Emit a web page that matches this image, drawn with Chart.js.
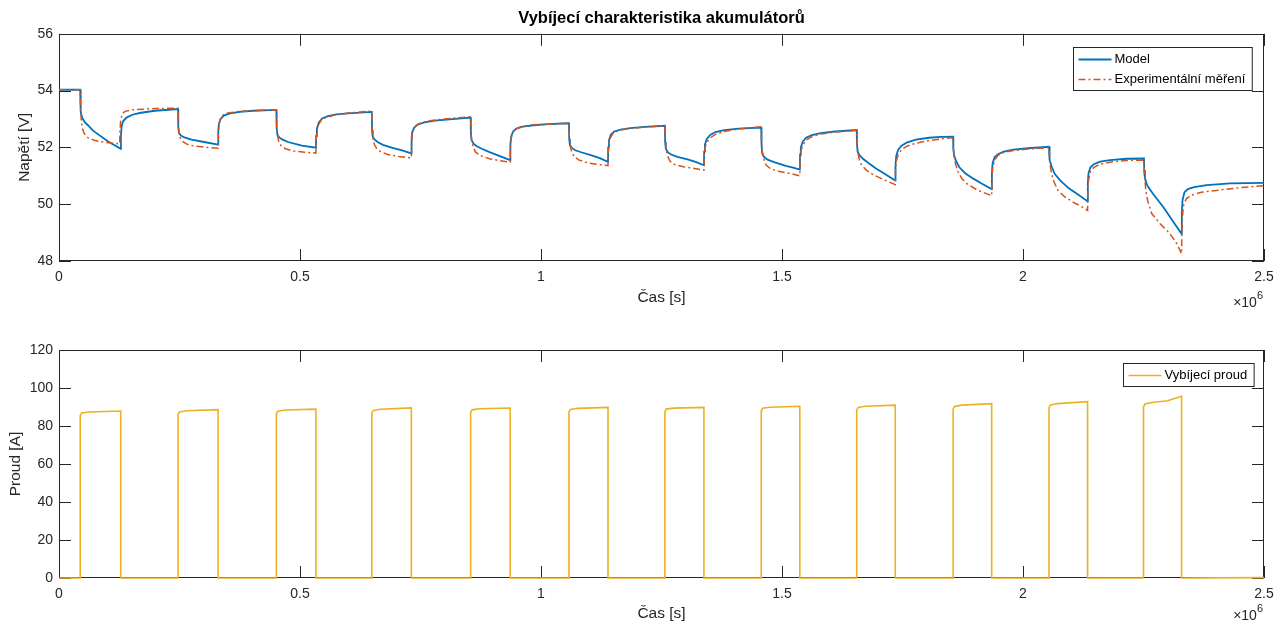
<!DOCTYPE html>
<html lang="cs">
<head>
<meta charset="UTF-8">
<title>Vybíjecí charakteristika akumulátorů</title>
<script src="https://cdn.jsdelivr.net/npm/chart.js"></script>
<style>
  html, body { margin: 0; padding: 0; background: #fff; }
  #wrap { position: relative; width: 1276px; height: 626px; }
  canvas { position: absolute; left: 0; }
  #napeti { top: 0; }
  #proud { top: 313px; }
</style>
</head>
<body>
<div id="wrap">
  <canvas id="napeti" width="1276" height="313"></canvas>
  <canvas id="proud" width="1276" height="313"></canvas>
</div>
<script>
// cas je v jednotkach 10^6 s
const xTicks = [0, 0.5, 1, 1.5, 2, 2.5];
const napetiRange = [48, 56];
const proudRange = [0, 120];

// [t, U] - model
const modelData = [
  [0, 54.03], [0.044, 54.03],
  [0.045, 53.25], [0.048, 53.05], [0.053, 52.9], [0.060, 52.78], [0.070, 52.6], [0.082, 52.45], [0.102, 52.21], [0.128, 51.95],
  [0.1285, 52.4], [0.130, 52.75], [0.133, 52.92], [0.140, 53.05], [0.152, 53.15], [0.170, 53.22], [0.199, 53.29], [0.247, 53.35],
  [0.2475, 52.7], [0.249, 52.5], [0.253, 52.42], [0.260, 52.35], [0.275, 52.27], [0.301, 52.19], [0.330, 52.1],
  [0.3305, 52.6], [0.332, 52.85], [0.336, 53.02], [0.343, 53.13], [0.355, 53.2], [0.375, 53.25], [0.402, 53.29], [0.451, 53.32],
  [0.4515, 52.7], [0.453, 52.45], [0.457, 52.35], [0.463, 52.28], [0.475, 52.19], [0.504, 52.06], [0.533, 51.99],
  [0.5335, 52.4], [0.535, 52.65], [0.539, 52.88], [0.546, 53.02], [0.558, 53.1], [0.575, 53.16], [0.600, 53.2], [0.649, 53.25],
  [0.6495, 52.6], [0.651, 52.38], [0.655, 52.27], [0.661, 52.19], [0.672, 52.09], [0.690, 51.99], [0.710, 51.9], [0.731, 51.79],
  [0.7315, 52.3], [0.733, 52.55], [0.737, 52.7], [0.744, 52.8], [0.758, 52.88], [0.780, 52.94], [0.810, 52.99], [0.854, 53.05],
  [0.8545, 52.5], [0.856, 52.25], [0.860, 52.13], [0.866, 52.05], [0.876, 51.96], [0.892, 51.84], [0.912, 51.71], [0.936, 51.55],
  [0.9365, 52.1], [0.938, 52.38], [0.942, 52.56], [0.949, 52.66], [0.962, 52.73], [0.985, 52.78], [1.015, 52.82], [1.058, 52.85],
  [1.0585, 52.3], [1.060, 52.08], [1.064, 51.98], [1.071, 51.9], [1.085, 51.82], [1.105, 51.72], [1.122, 51.62], [1.139, 51.49],
  [1.1395, 52.0], [1.141, 52.25], [1.145, 52.45], [1.152, 52.56], [1.165, 52.63], [1.185, 52.68], [1.215, 52.72], [1.257, 52.76],
  [1.2575, 52.2], [1.259, 51.95], [1.263, 51.83], [1.270, 51.75], [1.283, 51.67], [1.306, 51.57], [1.322, 51.48], [1.338, 51.37],
  [1.3385, 51.85], [1.340, 52.1], [1.344, 52.3], [1.351, 52.44], [1.362, 52.54], [1.380, 52.61], [1.410, 52.66], [1.457, 52.7],
  [1.4575, 52.1], [1.459, 51.78], [1.463, 51.66], [1.470, 51.57], [1.485, 51.47], [1.508, 51.35], [1.523, 51.29], [1.537, 51.22],
  [1.5375, 51.75], [1.539, 52.0], [1.543, 52.2], [1.550, 52.34], [1.562, 52.43], [1.580, 52.5], [1.610, 52.56], [1.655, 52.61],
  [1.6555, 52.1], [1.657, 51.85], [1.661, 51.72], [1.668, 51.6], [1.680, 51.44], [1.695, 51.26], [1.712, 51.08], [1.735, 50.83],
  [1.7355, 51.4], [1.737, 51.7], [1.741, 51.92], [1.748, 52.06], [1.760, 52.18], [1.778, 52.27], [1.805, 52.34], [1.830, 52.37], [1.855, 52.38],
  [1.8555, 51.95], [1.857, 51.72], [1.861, 51.52], [1.868, 51.3], [1.880, 51.09], [1.897, 50.9], [1.915, 50.72], [1.935, 50.53],
  [1.9355, 51.1], [1.937, 51.45], [1.941, 51.65], [1.948, 51.76], [1.960, 51.85], [1.980, 51.92], [2.010, 51.97], [2.054, 52.02],
  [2.0545, 51.75], [2.056, 51.55], [2.060, 51.3], [2.066, 51.06], [2.077, 50.84], [2.095, 50.56], [2.115, 50.33], [2.134, 50.1],
  [2.1345, 50.75], [2.136, 51.1], [2.140, 51.3], [2.147, 51.41], [2.160, 51.5], [2.180, 51.55], [2.215, 51.6], [2.251, 51.61],
  [2.2515, 51.2], [2.253, 50.9], [2.257, 50.7], [2.262, 50.55], [2.270, 50.36], [2.291, 49.9], [2.310, 49.43], [2.329, 48.96],
  [2.3295, 49.7], [2.331, 50.15], [2.335, 50.42], [2.342, 50.53], [2.355, 50.6], [2.381, 50.67], [2.430, 50.73], [2.5, 50.75]
];

// [t, U] - experimentalni mereni
const mereniData = [
  [0, 54.03], [0.044, 54.03],
  [0.0445, 53.5], [0.046, 53.0], [0.048, 52.7], [0.052, 52.5], [0.060, 52.34], [0.075, 52.24], [0.095, 52.18], [0.126, 52.12],
  [0.1265, 52.6], [0.128, 52.95], [0.131, 53.18], [0.137, 53.27], [0.150, 53.32], [0.199, 53.37], [0.247, 53.38],
  [0.2475, 52.8], [0.249, 52.5], [0.252, 52.32], [0.257, 52.2], [0.266, 52.11], [0.280, 52.05], [0.305, 52.0], [0.330, 51.97],
  [0.3305, 52.5], [0.332, 52.8], [0.335, 53.02], [0.340, 53.14], [0.350, 53.21], [0.370, 53.26], [0.410, 53.3], [0.451, 53.32],
  [0.4515, 52.8], [0.453, 52.45], [0.456, 52.2], [0.461, 52.05], [0.470, 51.95], [0.487, 51.87], [0.510, 51.83], [0.533, 51.8],
  [0.5335, 52.3], [0.535, 52.55], [0.538, 52.78], [0.543, 52.93], [0.553, 53.05], [0.570, 53.13], [0.600, 53.21], [0.649, 53.28],
  [0.6495, 52.7], [0.651, 52.35], [0.654, 52.12], [0.659, 51.96], [0.667, 51.85], [0.682, 51.75], [0.705, 51.68], [0.731, 51.63],
  [0.7315, 52.15], [0.733, 52.45], [0.736, 52.65], [0.741, 52.78], [0.750, 52.86], [0.770, 52.94], [0.800, 53.0], [0.854, 53.08],
  [0.8545, 52.6], [0.856, 52.25], [0.859, 52.02], [0.864, 51.84], [0.873, 51.72], [0.893, 51.6], [0.915, 51.53], [0.936, 51.48],
  [0.9365, 52.0], [0.938, 52.3], [0.941, 52.52], [0.946, 52.63], [0.958, 52.73], [0.985, 52.8], [1.058, 52.85],
  [1.0585, 52.4], [1.060, 52.1], [1.063, 51.88], [1.068, 51.7], [1.078, 51.56], [1.096, 51.46], [1.118, 51.4], [1.139, 51.36],
  [1.1395, 51.85], [1.141, 52.15], [1.144, 52.35], [1.150, 52.5], [1.162, 52.6], [1.185, 52.67], [1.220, 52.72], [1.257, 52.76],
  [1.2575, 52.3], [1.259, 52.0], [1.262, 51.72], [1.267, 51.53], [1.277, 51.4], [1.295, 51.32], [1.315, 51.27], [1.338, 51.2],
  [1.3385, 51.7], [1.340, 51.98], [1.344, 52.18], [1.350, 52.32], [1.361, 52.45], [1.380, 52.56], [1.410, 52.65], [1.457, 52.73],
  [1.4575, 52.2], [1.459, 51.88], [1.462, 51.6], [1.467, 51.38], [1.477, 51.24], [1.495, 51.15], [1.517, 51.08], [1.537, 51.0],
  [1.5375, 51.55], [1.539, 51.85], [1.543, 52.08], [1.550, 52.25], [1.562, 52.38], [1.580, 52.47], [1.610, 52.54], [1.655, 52.6],
  [1.6555, 52.15], [1.657, 51.85], [1.660, 51.6], [1.665, 51.38], [1.675, 51.2], [1.689, 51.04], [1.710, 50.87], [1.735, 50.69],
  [1.7355, 51.2], [1.737, 51.5], [1.741, 51.75], [1.748, 51.92], [1.760, 52.05], [1.778, 52.15], [1.805, 52.24], [1.830, 52.3], [1.855, 52.34],
  [1.8555, 51.95], [1.857, 51.7], [1.860, 51.42], [1.865, 51.15], [1.873, 50.9], [1.885, 50.7], [1.905, 50.5], [1.920, 50.4], [1.935, 50.3],
  [1.9355, 50.9], [1.937, 51.25], [1.941, 51.55], [1.948, 51.72], [1.960, 51.82], [1.980, 51.89], [2.010, 51.94], [2.054, 51.99],
  [2.0545, 51.7], [2.056, 51.4], [2.059, 51.1], [2.064, 50.8], [2.072, 50.5], [2.085, 50.28], [2.106, 50.05], [2.120, 49.93], [2.134, 49.78],
  [2.1345, 50.45], [2.136, 50.85], [2.140, 51.15], [2.147, 51.3], [2.160, 51.41], [2.180, 51.48], [2.215, 51.54], [2.251, 51.55],
  [2.2515, 51.2], [2.253, 50.85], [2.255, 50.45], [2.259, 50.1], [2.267, 49.67], [2.284, 49.32], [2.305, 48.96], [2.319, 48.61], [2.329, 48.26],
  [2.3295, 49.0], [2.331, 49.6], [2.333, 49.95], [2.339, 50.2], [2.350, 50.32], [2.370, 50.42], [2.408, 50.5], [2.450, 50.58], [2.5, 50.65]
];

// [t, I] - vybijeci proud
const proudData = [
  [0, 0],
  [0.044, 0], [0.044, 85.5], [0.047, 86.9], [0.062, 87.4], [0.128, 87.9], [0.128, 0],
  [0.247, 0], [0.247, 86.3], [0.250, 87.4], [0.265, 88.0], [0.330, 88.6], [0.330, 0],
  [0.451, 0], [0.451, 86.6], [0.454, 87.8], [0.469, 88.4], [0.533, 88.9], [0.533, 0],
  [0.649, 0], [0.649, 87.0], [0.652, 88.2], [0.667, 88.8], [0.731, 89.5], [0.731, 0],
  [0.854, 0], [0.854, 87.2], [0.857, 88.5], [0.872, 89.1], [0.936, 89.5], [0.936, 0],
  [1.058, 0], [1.058, 87.4], [1.061, 88.7], [1.076, 89.3], [1.139, 89.8], [1.139, 0],
  [1.257, 0], [1.257, 87.5], [1.260, 88.9], [1.275, 89.4], [1.338, 89.8], [1.338, 0],
  [1.457, 0], [1.457, 88.0], [1.460, 89.3], [1.475, 89.9], [1.537, 90.4], [1.537, 0],
  [1.655, 0], [1.655, 88.3], [1.658, 89.8], [1.673, 90.4], [1.735, 91.0], [1.735, 0],
  [1.855, 0], [1.855, 88.9], [1.858, 90.3], [1.873, 91.0], [1.935, 91.8], [1.935, 0],
  [2.054, 0], [2.054, 89.6], [2.057, 91.1], [2.072, 91.8], [2.134, 92.8], [2.134, 0],
  [2.250, 0], [2.250, 89.9], [2.253, 91.6], [2.268, 92.4], [2.300, 93.3], [2.329, 95.6], [2.329, 0],
  [2.5, 0.2]
];

const FONT = "'Liberation Sans', Arial, Helvetica, sans-serif";
const AX = '#262626';

function toXY(arr) {
  return arr.map(p => ({ x: p[0], y: p[1] }));
}

// ramecek a tiky smerem dovnitr (styl MATLAB)
const matlabAxes = {
  id: 'matlabAxes',
  beforeDatasetsDraw(chart) {
    const { ctx, chartArea: a, scales } = chart;
    const tl = 12;
    ctx.save();
    ctx.strokeStyle = AX;
    ctx.lineWidth = 1;
    ctx.beginPath();
    scales.x.ticks.forEach(t => {
      const px = Math.round(scales.x.getPixelForValue(t.value)) + 0.5;
      ctx.moveTo(px, a.bottom); ctx.lineTo(px, a.bottom - tl);
      ctx.moveTo(px, a.top); ctx.lineTo(px, a.top + tl);
    });
    scales.y.ticks.forEach(t => {
      const py = Math.round(scales.y.getPixelForValue(t.value)) + 0.5;
      ctx.moveTo(a.left, py); ctx.lineTo(a.left + tl, py);
      ctx.moveTo(a.right, py); ctx.lineTo(a.right - tl, py);
    });
    ctx.stroke();
    ctx.strokeRect(Math.round(a.left) + 0.5, Math.round(a.top) + 0.5,
                   Math.round(a.width) - 1, Math.round(a.height) - 1);
    ctx.restore();
  },
  afterDraw(chart) {
    // exponent osy x
    const { ctx, chartArea: a } = chart;
    const y = a.bottom + chart.options.plugins.matlabAxes.expOffset;
    ctx.save();
    ctx.fillStyle = AX;
    ctx.textBaseline = 'middle';
    ctx.textAlign = 'right';
    ctx.font = '11px ' + FONT;
    ctx.fillText('6', a.right - 1, y - 7);
    const w6 = ctx.measureText('6').width;
    ctx.font = '14px ' + FONT;
    ctx.fillText('×10', a.right - 1 - w6, y);
    ctx.restore();
  }
};

// legenda uvnitr grafu vpravo nahore
const matlabLegend = {
  id: 'matlabLegend',
  afterDatasetsDraw(chart, args, opts) {
    const { ctx, chartArea: a } = chart;
    const ds = chart.data.datasets;
    ctx.save();
    ctx.font = '13px ' + FONT;
    const tw = Math.max(...ds.map(d => ctx.measureText(d.label).width));
    const w = 42 + tw + 6;
    const h = opts.rowH * ds.length + 3;
    const left = Math.round(a.right - opts.right - w) + 0.5;
    const top = Math.round(a.top + opts.top) + 0.5;
    ctx.fillStyle = '#fff';
    ctx.fillRect(left, top, w, h);
    ctx.strokeStyle = AX;
    ctx.lineWidth = 1;
    ctx.strokeRect(left, top, w, h);
    ds.forEach((d, i) => {
      const cy = top + 2 + opts.rowH * (i + 0.5);
      ctx.beginPath();
      ctx.strokeStyle = d.borderColor;
      ctx.lineWidth = d.borderWidth;
      ctx.setLineDash(d.borderDash || []);
      ctx.moveTo(left + 5, cy);
      ctx.lineTo(left + 38, cy);
      ctx.stroke();
      ctx.setLineDash([]);
      ctx.fillStyle = '#000';
      ctx.textBaseline = 'middle';
      ctx.textAlign = 'left';
      ctx.fillText(d.label, left + 41, cy);
    });
    ctx.restore();
  }
};

function buildOptions(cfg) {
  return {
    responsive: false,
    animation: false,
    events: [],
    layout: { padding: { top: cfg.padTop, right: 12, left: 0, bottom: 0 } },
    plugins: {
      legend: { display: false },
      tooltip: { enabled: false },
      title: cfg.title ? {
        display: true, text: cfg.title, fullSize: false, color: '#000',
        font: { size: 16.5, weight: 'bold', family: FONT },
        padding: { top: 9, bottom: 5 }
      } : { display: false },
      matlabLegend: cfg.legend,
      matlabAxes: { expOffset: cfg.expOffset }
    },
    scales: {
      x: {
        type: 'linear', min: xTicks[0], max: xTicks[xTicks.length - 1],
        afterFit: s => { s.height = cfg.xAxisHeight; s.paddingLeft = 0; s.paddingRight = 0; },
        afterBuildTicks: s => { s.ticks = xTicks.map(v => ({ value: v })); },
        grid: { display: false, drawTicks: false },
        border: { display: false },
        ticks: {
          padding: 8, color: AX, autoSkip: false, maxRotation: 0,
          font: { size: 14, family: FONT },
          callback: v => String(v)
        },
        title: {
          display: true, text: 'Čas [s]', color: AX,
          font: { size: 15.5, family: FONT },
          padding: { top: 0, bottom: cfg.xTitlePad }
        }
      },
      y: {
        min: cfg.yRange[0], max: cfg.yRange[1],
        afterFit: s => { s.width = 59; },
        grid: { display: false, drawTicks: false },
        border: { display: false },
        ticks: {
          stepSize: cfg.yStep, padding: 6, color: AX,
          font: { size: 14, family: FONT }
        },
        title: {
          display: true, text: cfg.yTitle, color: AX,
          font: { size: 15.5, family: FONT },
          padding: { top: cfg.yTitlePad, bottom: 0 }
        }
      }
    }
  };
}

new Chart(document.getElementById('napeti'), {
  type: 'line',
  data: {
    datasets: [
      {
        label: 'Model', data: toXY(modelData),
        borderColor: '#0072BD', borderWidth: 1.8, pointRadius: 0, order: 2
      },
      {
        label: 'Experimentální měření', data: toXY(mereniData),
        borderColor: '#D95319', borderWidth: 1.5, borderDash: [7, 3, 2, 3],
        pointRadius: 0, order: 1
      }
    ]
  },
  options: buildOptions({
    title: 'Vybíjecí charakteristika akumulátorů',
    padTop: 0, xAxisHeight: 52, xTitlePad: 6, expOffset: 42,
    yRange: napetiRange, yStep: 2, yTitle: 'Napětí [V]', yTitlePad: 15,
    legend: { right: 12, top: 13, rowH: 20 }
  }),
  plugins: [matlabAxes, matlabLegend]
});

new Chart(document.getElementById('proud'), {
  type: 'line',
  data: {
    datasets: [
      {
        label: 'Vybíjecí proud', data: toXY(proudData),
        borderColor: '#EDB120', borderWidth: 1.6, pointRadius: 0, clip: 3
      }
    ]
  },
  options: buildOptions({
    title: null,
    padTop: 37, xAxisHeight: 48, xTitlePad: 3, expOffset: 38,
    yRange: proudRange, yStep: 20, yTitle: 'Proud [A]', yTitlePad: 6,
    legend: { right: 10, top: 13, rowH: 20 }
  }),
  plugins: [matlabAxes, matlabLegend]
});
</script>
</body>
</html>
